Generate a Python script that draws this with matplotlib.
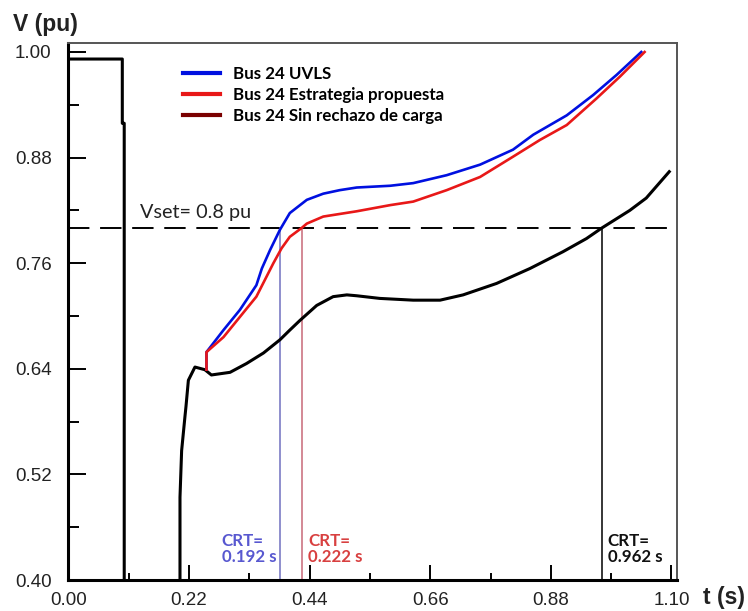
#!/usr/bin/env python3
"""Voltage recovery at bus 24: UVLS vs proposed strategy vs no load shedding."""

import matplotlib

matplotlib.use("Agg")

import matplotlib.lines as mlines
import matplotlib.pyplot as plt

# --- data -------------------------------------------------------------------
T_NO_SHED = [0.0, 0.0985, 0.0985, 0.102, 0.102, 0.2037, 0.2037, 0.2067, 0.2128,
             0.2146, 0.219, 0.231, 0.249, 0.261, 0.295, 0.325, 0.356, 0.386,
             0.404, 0.4225, 0.453, 0.483, 0.508, 0.526, 0.568, 0.629, 0.678,
             0.720, 0.781, 0.842, 0.902, 0.945, 0.973, 1.024, 1.054, 1.096]
V_NO_SHED = [0.992, 0.992, 0.919, 0.919, 0.399, 0.399, 0.494, 0.547, 0.586,
             0.597, 0.627, 0.642, 0.639, 0.633, 0.636, 0.646, 0.658, 0.673,
             0.684, 0.695, 0.712, 0.722, 0.724, 0.723, 0.720, 0.718, 0.718,
             0.724, 0.737, 0.754, 0.773, 0.788, 0.800, 0.820, 0.834, 0.864]

T_UVLS = [0.252, 0.252, 0.283, 0.313, 0.343, 0.353, 0.368, 0.386, 0.404, 0.435,
          0.465, 0.495, 0.526, 0.587, 0.629, 0.690, 0.751, 0.811, 0.848, 0.909,
          0.957, 1.000, 1.045]
V_UVLS = [0.639, 0.659, 0.684, 0.707, 0.735, 0.754, 0.775, 0.798, 0.817, 0.832,
          0.839, 0.843, 0.846, 0.848, 0.851, 0.860, 0.872, 0.889, 0.906, 0.928,
          0.951, 0.974, 1.000]

T_PROP = [0.252, 0.252, 0.283, 0.313, 0.343, 0.374, 0.389, 0.404, 0.4255, 0.435,
          0.465, 0.526, 0.587, 0.629, 0.690, 0.751, 0.811, 0.860, 0.909, 0.963,
          1.006, 1.051]
V_PROP = [0.639, 0.659, 0.676, 0.699, 0.722, 0.760, 0.777, 0.790, 0.800, 0.805,
          0.813, 0.819, 0.826, 0.830, 0.843, 0.858, 0.881, 0.900, 0.917, 0.947,
          0.972, 1.000]

V_SET = 0.8
CRT_T = [0.387, 0.4255, 0.9736]          # where each curve crosses Vset
CRT_LABELS = ["CRT=\n0.192 s", "CRT=\n0.222 s", "CRT=\n0.962 s"]

X_TICKS = [0.00, 0.22, 0.44, 0.66, 0.88, 1.10]
X_MINOR = [0.11, 0.33, 0.55, 0.77, 0.99]
Y_TICKS = [0.40, 0.52, 0.64, 0.76, 0.88, 1.00]
Y_MINOR = [0.46, 0.58, 0.70, 0.82, 0.94]

LEGEND_LABELS = ["Bus 24 UVLS", "Bus 24 Estrategia propuesta",
                 "Bus 24 Sin rechazo de carga"]

# --- styling ----------------------------------------------------------------
BLUE = "#0010e0"
RED = "#e81818"
DARK_RED = "#7a0000"
CRT_LINE_COLORS = ["#7070c0", "#c86878", "black"]
CRT_TEXT_COLORS = ["#5858d0", "#d84040", "#111111"]
TEXT_FONT = "Lato"
TICK_FONT = "Liberation Sans"


def main() -> None:
    fig = plt.figure(figsize=(7.48, 6.11), dpi=100)
    ax = fig.add_axes([0.0913, 0.0507, 0.8137, 0.8789])

    ax.plot(T_NO_SHED, V_NO_SHED, color="black", linewidth=2.2, zorder=3)
    ax.plot(T_UVLS, V_UVLS, color=BLUE, linewidth=1.9, zorder=4)
    ax.plot(T_PROP, V_PROP, color=RED, linewidth=1.9, zorder=4)

    # Vset reference and critical recovery times
    ax.axhline(V_SET, color="black", linewidth=1.4, dashes=(11, 5.5), zorder=2)
    ax.text(0.1307, 0.8115, "Vset= 0.8 pu", fontsize=14.3, family=TEXT_FONT,
            color="#222222", va="baseline", ha="left")
    text_x = [0.2796, 0.437, 0.984]
    for t, lbl, lc, tc, tx in zip(CRT_T, CRT_LABELS, CRT_LINE_COLORS,
                                  CRT_TEXT_COLORS, text_x):
        ax.plot([t, t], [0.40, V_SET], color=lc, linewidth=1.1, zorder=2)
        ax.text(tx, 0.417, lbl, fontsize=12.2, family=TEXT_FONT, weight="bold",
                color=tc, va="bottom", ha="left", linespacing=1.0)

    ax.set_xlim(0, 1.11)
    ax.set_ylim(0.40, 1.0102)
    ax.set_xticks(X_TICKS)
    ax.set_xticks(X_MINOR, minor=True)
    ax.set_yticks(Y_TICKS)
    ax.set_yticks(Y_MINOR, minor=True)
    ax.set_xticklabels([f"{v:.2f}" for v in X_TICKS])
    ax.set_yticklabels([f"{v:.2f}" for v in Y_TICKS])
    for lab in ax.get_xticklabels() + ax.get_yticklabels():
        lab.set_family(TICK_FONT)
        lab.set_color("#222222")
    ax.tick_params(axis="both", which="both", direction="in", width=1.4,
                   labelsize=13.5)
    ax.tick_params(axis="x", which="major", length=11, pad=8.5)
    ax.tick_params(axis="x", which="minor", length=5)
    ax.tick_params(axis="y", which="major", length=13, pad=12)
    ax.tick_params(axis="y", which="minor", length=8)

    for side in ("left", "bottom"):
        ax.spines[side].set_linewidth(2.2)
        ax.spines[side].set_color("black")
    for side in ("top", "right"):
        ax.spines[side].set_linewidth(1.4)
        ax.spines[side].set_color("#555555")

    handles = [
        mlines.Line2D([], [], color=c, linewidth=3)
        for c in (BLUE, RED, DARK_RED)
    ]
    ax.legend(handles, LEGEND_LABELS, loc="upper left",
              bbox_to_anchor=(0.1884, 0.958), frameon=False, borderpad=0,
              borderaxespad=0, handlelength=2.2, handletextpad=0.75,
              labelspacing=0.3,
              prop={"family": TEXT_FONT, "weight": "bold", "size": 12.2})

    fig.text(13 / 748, 1 - 31.5 / 611, "V (pu)", fontsize=16.5,
             weight="bold", family=TICK_FONT, color="#222222", va="baseline")
    fig.text(703 / 748, 1 - 604 / 611, "t (s)", fontsize=16.5,
             weight="bold", family=TICK_FONT, color="#222222", va="baseline")

    fig.savefig("out.png", dpi=100)
    plt.close(fig)


if __name__ == "__main__":
    main()
